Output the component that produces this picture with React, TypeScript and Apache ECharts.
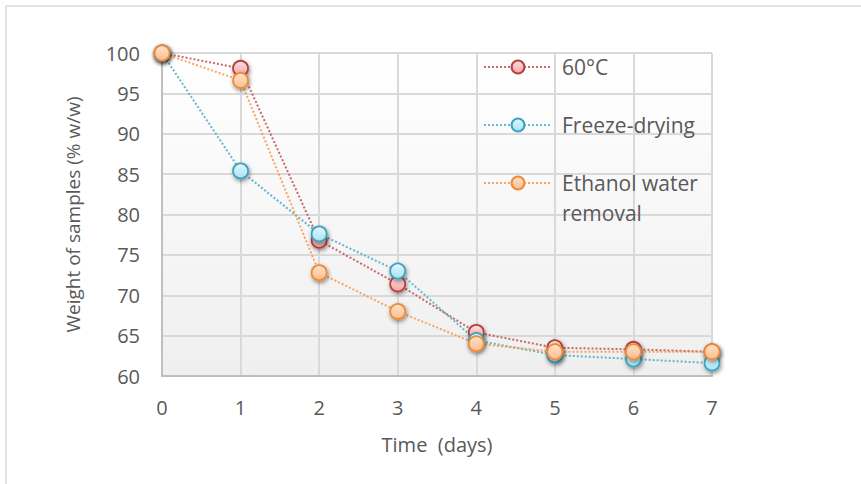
import React, { useEffect, useRef } from "react";
import * as echarts from "echarts";

const days = [0, 1, 2, 3, 4, 5, 6, 7];
const series60C = [100, 98.1, 76.8, 71.4, 65.4, 63.5, 63.3, 63.0];
const seriesFreeze = [100, 85.4, 77.6, 73.0, 64.4, 62.6, 62.1, 61.6];
const seriesEthanol = [100, 96.6, 72.8, 68.0, 64.0, 63.0, 63.0, 63.0];
const seriesNames = ["60°C", "Freeze-drying", "Ethanol water removal"];
const yTicks = [60, 65, 70, 75, 80, 85, 90, 95, 100];

const FONT = "Open Sans";
const TEXT = "#595959";

const palettes = [
  { line: "#c0504d", border: "#b5403d", light: "#fde0e0", dark: "#f2a4a3" },
  { line: "#4bacc6", border: "#3ea3bd", light: "#e2f7fd", dark: "#a9e2f3" },
  { line: "#f79646", border: "#ef8a36", light: "#fee2cc", dark: "#fbbd8e" },
];

function makeSeries(name: string, values: number[], p: typeof palettes[0]) {
  return {
    name,
    type: "line",
    data: days.map((d, i) => [d, values[i]]),
    symbol: "circle",
    symbolSize: 15,
    lineStyle: { color: p.line, width: 2, type: [2, 2] as any, opacity: 0.85 },
    itemStyle: {
      color: new echarts.graphic.LinearGradient(0, 0, 0, 1, [
        { offset: 0, color: p.light },
        { offset: 1, color: p.dark },
      ]),
      borderColor: p.border,
      borderWidth: 1.8,
      shadowBlur: 4,
      shadowColor: "rgba(0,0,0,0.45)",
      shadowOffsetX: 1,
      shadowOffsetY: 2,
    },
    emphasis: { disabled: true },
    z: 3,
  };
}

export default function App() {
  const ref = useRef<HTMLDivElement>(null);
  useEffect(() => {
    if (!ref.current) return;
    const chart = echarts.init(ref.current, null, { renderer: "svg" });
    const legendBase = {
      orient: "vertical",
      left: 483,
      itemWidth: 68,
      itemHeight: 16,
      itemGap: 0,
      padding: 0,
      selectedMode: false,
    };
    const legendText = {
      fontFamily: FONT,
      fontSize: 21,
      color: TEXT,
      lineHeight: 30,
      padding: [0, 0, 0, 5],
    };
    chart.setOption({
      animation: false,
      backgroundColor: "#ffffff",
      grid: {
        left: 162,
        right: 149,
        top: 53,
        bottom: 108,
        show: true,
        borderWidth: 0,
        backgroundColor: new echarts.graphic.LinearGradient(0, 0, 0, 1, [
          { offset: 0, color: "#ffffff" },
          { offset: 1, color: "#efefef" },
        ]),
      },
      xAxis: {
        type: "value",
        min: 0,
        max: 7,
        interval: 1,
        name: "Time  (days)",
        nameLocation: "middle",
        nameGap: 58,
        nameTextStyle: { fontFamily: FONT, fontSize: 20, color: TEXT },
        axisLine: { show: true, lineStyle: { color: "#bfbfbf", width: 2 } },
        axisTick: { show: false },
        axisLabel: { fontFamily: FONT, fontSize: 20, color: TEXT, margin: 21 },
        splitLine: { show: true, lineStyle: { color: "#d9d9d9", width: 2 } },
      },
      yAxis: {
        type: "value",
        min: 60,
        max: 100,
        interval: 5,
        name: "Weight of samples (% w/w)",
        nameLocation: "middle",
        nameGap: 80,
        nameTextStyle: { fontFamily: FONT, fontSize: 19, color: TEXT },
        axisLine: { show: true, lineStyle: { color: "#bfbfbf", width: 2 } },
        axisTick: { show: false },
        axisLabel: {
          fontFamily: FONT,
          fontSize: 20,
          color: TEXT,
          margin: 22,
          formatter: (v: number) => (yTicks.includes(v) ? String(v) : ""),
        },
        splitLine: { show: true, lineStyle: { color: "#d9d9d9", width: 2 } },
      },
      legend: [
        { ...legendBase, top: 52, data: [seriesNames[0]], textStyle: legendText },
        { ...legendBase, top: 110, data: [seriesNames[1]], textStyle: legendText },
        {
          ...legendBase,
          top: 138,
          data: [seriesNames[2]],
          textStyle: legendText,
          formatter: () => "\nEthanol water\nremoval",
        },
      ],
      graphic: [
        {
          type: "line",
          shape: { x1: 6, y1: 6, x2: 861, y2: 6 },
          style: { stroke: "#d9d9d9", lineWidth: 1.5 },
          silent: true,
        },
        {
          type: "line",
          shape: { x1: 6, y1: 6, x2: 6, y2: 484 },
          style: { stroke: "#d9d9d9", lineWidth: 1.5 },
          silent: true,
        },
      ],
      series: [
        makeSeries(seriesNames[0], series60C, palettes[0]),
        makeSeries(seriesNames[1], seriesFreeze, palettes[1]),
        makeSeries(seriesNames[2], seriesEthanol, palettes[2]),
      ],
    });
    return () => chart.dispose();
  }, []);
  return (
    <div
      ref={ref}
      style={{ position: "fixed", left: 0, top: 0, width: 861, height: 484 }}
    />
  );
}
